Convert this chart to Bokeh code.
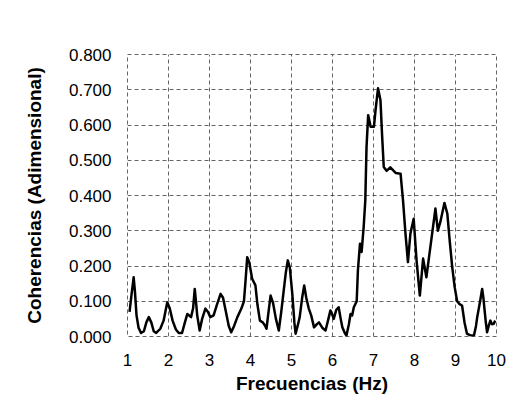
from bokeh.plotting import figure
from bokeh.models import FixedTicker, NumeralTickFormatter, Range1d
from bokeh.embed import file_html
from bokeh.resources import INLINE

freq = [1.05, 1.10, 1.15, 1.18, 1.22, 1.27, 1.33, 1.40, 1.46, 1.52, 1.58, 1.64, 1.70, 1.80, 1.88, 1.97,
        2.03, 2.10, 2.18, 2.25, 2.33, 2.40, 2.46, 2.55, 2.60, 2.64, 2.67, 2.70, 2.76, 2.82, 2.90, 2.96,
        3.02, 3.10, 3.18, 3.27, 3.33, 3.40, 3.47, 3.53, 3.60, 3.68, 3.78, 3.84, 3.88, 3.92, 3.97, 4.04,
        4.12, 4.17, 4.23, 4.30, 4.36, 4.39, 4.44, 4.49, 4.55, 4.62, 4.69, 4.75, 4.81, 4.86, 4.91, 4.96,
        5.02, 5.07, 5.10, 5.15, 5.20, 5.26, 5.31, 5.36, 5.42, 5.48, 5.55, 5.62, 5.67, 5.75, 5.83, 5.90,
        5.95, 6.00, 6.03, 6.09, 6.15, 6.20, 6.24, 6.30, 6.34, 6.40, 6.44, 6.48, 6.52, 6.59, 6.62, 6.67,
        6.71, 6.76, 6.80, 6.83, 6.87, 6.93, 7.01, 7.05, 7.11, 7.17, 7.21, 7.25, 7.32, 7.41, 7.54, 7.66,
        7.72, 7.78, 7.84, 7.90, 7.98, 8.05, 8.13, 8.21, 8.29, 8.36, 8.43, 8.51, 8.57, 8.63, 8.73, 8.80,
        8.86, 8.92, 8.98, 9.04, 9.10, 9.16, 9.22, 9.28, 9.36, 9.45, 9.50, 9.53, 9.60, 9.65, 9.68, 9.71,
        9.74, 9.77, 9.81, 9.85, 9.89, 9.93, 9.97]
coh = [0.070, 0.120, 0.168, 0.130, 0.060, 0.025, 0.010, 0.015, 0.040, 0.055, 0.040, 0.015, 0.010, 0.022, 0.045, 0.097,
       0.080, 0.045, 0.020, 0.010, 0.010, 0.040, 0.064, 0.055, 0.080, 0.135, 0.100, 0.060, 0.017, 0.050, 0.079, 0.070,
       0.055, 0.060, 0.090, 0.121, 0.110, 0.070, 0.030, 0.012, 0.030, 0.055, 0.080, 0.100, 0.160, 0.225, 0.210, 0.164,
       0.145, 0.090, 0.045, 0.040, 0.030, 0.022, 0.070, 0.116, 0.095, 0.050, 0.017, 0.070, 0.130, 0.180, 0.216, 0.195,
       0.120, 0.040, 0.008, 0.030, 0.055, 0.110, 0.145, 0.110, 0.080, 0.060, 0.026, 0.035, 0.040, 0.025, 0.017, 0.050,
       0.074, 0.060, 0.050, 0.075, 0.083, 0.050, 0.026, 0.010, 0.003, 0.035, 0.064, 0.060, 0.083, 0.100, 0.188, 0.263,
       0.240, 0.310, 0.386, 0.538, 0.628, 0.595, 0.595, 0.642, 0.704, 0.670, 0.570, 0.481, 0.470, 0.480, 0.464, 0.462,
       0.386, 0.292, 0.211, 0.292, 0.334, 0.216, 0.116, 0.221, 0.168, 0.230, 0.292, 0.363, 0.300, 0.325, 0.379, 0.349,
       0.270, 0.197, 0.140, 0.100, 0.092, 0.088, 0.040, 0.008, 0.003, 0.003, 0.030, 0.055, 0.100, 0.135, 0.110, 0.074,
       0.040, 0.012, 0.030, 0.045, 0.035, 0.036, 0.045]

x_ticks = [1, 2, 3, 4, 5, 6, 7, 8, 9, 10]
y_ticks = [0.0, 0.1, 0.2, 0.3, 0.4, 0.5, 0.6, 0.7, 0.8]

p = figure(width=520, height=412, output_backend="svg", toolbar_location=None,
           x_range=Range1d(1, 10), y_range=Range1d(0, 0.8),
           min_border_left=127, min_border_right=24, min_border_top=54, min_border_bottom=76)

p.line(freq, coh, line_color="black", line_width=2.5, line_join="round")

p.xaxis.ticker = FixedTicker(ticks=x_ticks)
p.yaxis.ticker = FixedTicker(ticks=y_ticks)
p.yaxis.formatter = NumeralTickFormatter(format="0.000")

for ax in (p.xaxis[0], p.yaxis[0]):
    ax.axis_line_color = None
    ax.major_tick_line_color = None
    ax.minor_tick_line_color = None
    ax.major_tick_out = 0
    ax.major_tick_in = 0
    ax.major_label_text_font = "Liberation Sans"
    ax.major_label_text_font_size = "17px"
    ax.major_label_text_color = "black"
    ax.axis_label_text_font = "Liberation Sans"
    ax.axis_label_text_font_style = "bold"
    ax.axis_label_text_font_size = "19px"
    ax.axis_label_text_color = "black"

p.xaxis.axis_label = "Frecuencias (Hz)"
p.yaxis.axis_label = "Coherencias (Adimensional)"
p.xaxis.major_label_standoff = 17
p.xaxis.axis_label_standoff = 4
p.yaxis.major_label_standoff = 16
p.yaxis.axis_label_standoff = 21

p.grid.grid_line_color = "#333333"
p.grid.grid_line_dash = "4 3"
p.grid.grid_line_alpha = 0.75
p.grid.grid_line_width = 1

p.outline_line_color = "#333333"
p.outline_line_dash = "4 3"
p.outline_line_alpha = 0.75

p.background_fill_color = "white"
p.border_fill_color = "white"

open("out.html", "w").write(file_html(p, INLINE))
